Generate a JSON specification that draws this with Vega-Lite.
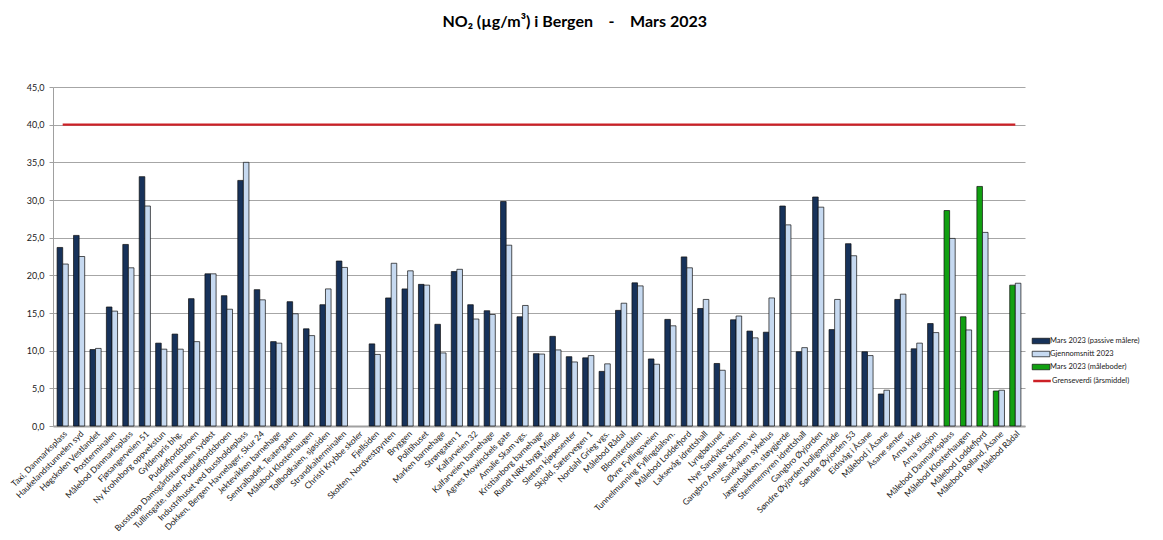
{
  "$schema": "https://vega.github.io/schema/vega-lite/v6.json",
  "width": 972,
  "height": 339,
  "padding": {"left": 9, "top": 14, "right": 2, "bottom": 2},
  "background": "white",
  "config": {"font": "Lato", "view": {"stroke": null}},
  "title": {"text": "NO₂ (µg/m³) i Bergen\u00a0\u00a0\u00a0 -\u00a0\u00a0\u00a0 Mars 2023", "fontSize": 16, "fontWeight": "bold", "color": "#000000", "anchor": "middle", "frame": "bounds", "offset": 53, "font": "Lato"},
  "data": {"values": [
    {"st": "Taxi, Danmarksplass", "periode": "Mars 2023", "serie": "Mars 2023 (passive målere)", "v": 23.7},
    {"st": "Taxi, Danmarksplass", "periode": "Gjennomsnitt 2023", "serie": "Gjennomsnitt 2023", "v": 21.5},
    {"st": "Haukelandstunnelen syd", "periode": "Mars 2023", "serie": "Mars 2023 (passive målere)", "v": 25.3},
    {"st": "Haukelandstunnelen syd", "periode": "Gjennomsnitt 2023", "serie": "Gjennomsnitt 2023", "v": 22.5},
    {"st": "Høgskolen Vestlandet", "periode": "Mars 2023", "serie": "Mars 2023 (passive målere)", "v": 10.15},
    {"st": "Høgskolen Vestlandet", "periode": "Gjennomsnitt 2023", "serie": "Gjennomsnitt 2023", "v": 10.3},
    {"st": "Postterminalen", "periode": "Mars 2023", "serie": "Mars 2023 (passive målere)", "v": 15.8},
    {"st": "Postterminalen", "periode": "Gjennomsnitt 2023", "serie": "Gjennomsnitt 2023", "v": 15.25},
    {"st": "Målebod Danmarksplass", "periode": "Mars 2023", "serie": "Mars 2023 (passive målere)", "v": 24.1},
    {"st": "Målebod Danmarksplass", "periode": "Gjennomsnitt 2023", "serie": "Gjennomsnitt 2023", "v": 21.0},
    {"st": "Fjøsangerveien 51", "periode": "Mars 2023", "serie": "Mars 2023 (passive målere)", "v": 33.1},
    {"st": "Fjøsangerveien 51", "periode": "Gjennomsnitt 2023", "serie": "Gjennomsnitt 2023", "v": 29.2},
    {"st": "Ny Krohnborg oppvekstun", "periode": "Mars 2023", "serie": "Mars 2023 (passive målere)", "v": 11.0},
    {"st": "Ny Krohnborg oppvekstun", "periode": "Gjennomsnitt 2023", "serie": "Gjennomsnitt 2023", "v": 10.2},
    {"st": "Gyldenpris bhg.", "periode": "Mars 2023", "serie": "Mars 2023 (passive målere)", "v": 12.2},
    {"st": "Gyldenpris bhg.", "periode": "Gjennomsnitt 2023", "serie": "Gjennomsnitt 2023", "v": 10.2},
    {"st": "Puddefjordsbroen", "periode": "Mars 2023", "serie": "Mars 2023 (passive målere)", "v": 16.9},
    {"st": "Puddefjordsbroen", "periode": "Gjennomsnitt 2023", "serie": "Gjennomsnitt 2023", "v": 11.2},
    {"st": "Busstopp Damsgårdstunnelen sydøst", "periode": "Mars 2023", "serie": "Mars 2023 (passive målere)", "v": 20.2},
    {"st": "Busstopp Damsgårdstunnelen sydøst", "periode": "Gjennomsnitt 2023", "serie": "Gjennomsnitt 2023", "v": 20.2},
    {"st": "Tullinsgate, under Puddefjordsbroen", "periode": "Mars 2023", "serie": "Mars 2023 (passive målere)", "v": 17.3},
    {"st": "Tullinsgate, under Puddefjordsbroen", "periode": "Gjennomsnitt 2023", "serie": "Gjennomsnitt 2023", "v": 15.5},
    {"st": "Industrihuset ved bussholdeplass", "periode": "Mars 2023", "serie": "Mars 2023 (passive målere)", "v": 32.6},
    {"st": "Industrihuset ved bussholdeplass", "periode": "Gjennomsnitt 2023", "serie": "Gjennomsnitt 2023", "v": 35.0},
    {"st": "Dokken, Bergen Havnelager, Skur 24", "periode": "Mars 2023", "serie": "Mars 2023 (passive målere)", "v": 18.1},
    {"st": "Dokken, Bergen Havnelager, Skur 24", "periode": "Gjennomsnitt 2023", "serie": "Gjennomsnitt 2023", "v": 16.75},
    {"st": "Jektevikken barnehage", "periode": "Mars 2023", "serie": "Mars 2023 (passive målere)", "v": 11.2},
    {"st": "Jektevikken barnehage", "periode": "Gjennomsnitt 2023", "serie": "Gjennomsnitt 2023", "v": 11.0},
    {"st": "Sentralbadet, Teatergaten", "periode": "Mars 2023", "serie": "Mars 2023 (passive målere)", "v": 16.5},
    {"st": "Sentralbadet, Teatergaten", "periode": "Gjennomsnitt 2023", "serie": "Gjennomsnitt 2023", "v": 14.9},
    {"st": "Målebod Klosterhaugen", "periode": "Mars 2023", "serie": "Mars 2023 (passive målere)", "v": 12.9},
    {"st": "Målebod Klosterhaugen", "periode": "Gjennomsnitt 2023", "serie": "Gjennomsnitt 2023", "v": 12.0},
    {"st": "Tollbodkaien, sjøsiden", "periode": "Mars 2023", "serie": "Mars 2023 (passive målere)", "v": 16.1},
    {"st": "Tollbodkaien, sjøsiden", "periode": "Gjennomsnitt 2023", "serie": "Gjennomsnitt 2023", "v": 18.2},
    {"st": "Strandkaiterminalen", "periode": "Mars 2023", "serie": "Mars 2023 (passive målere)", "v": 21.9},
    {"st": "Strandkaiterminalen", "periode": "Gjennomsnitt 2023", "serie": "Gjennomsnitt 2023", "v": 21.05},
    {"st": "Christi Krybbe skoler", "periode": "Mars 2023", "serie": "Mars 2023 (passive målere)", "v": null},
    {"st": "Christi Krybbe skoler", "periode": "Gjennomsnitt 2023", "serie": "Gjennomsnitt 2023", "v": null},
    {"st": "Fjellsiden", "periode": "Mars 2023", "serie": "Mars 2023 (passive målere)", "v": 10.9},
    {"st": "Fjellsiden", "periode": "Gjennomsnitt 2023", "serie": "Gjennomsnitt 2023", "v": 9.5},
    {"st": "Skolten, Nordvestpynten", "periode": "Mars 2023", "serie": "Mars 2023 (passive målere)", "v": 17.0},
    {"st": "Skolten, Nordvestpynten", "periode": "Gjennomsnitt 2023", "serie": "Gjennomsnitt 2023", "v": 21.6},
    {"st": "Bryggen", "periode": "Mars 2023", "serie": "Mars 2023 (passive målere)", "v": 18.2},
    {"st": "Bryggen", "periode": "Gjennomsnitt 2023", "serie": "Gjennomsnitt 2023", "v": 20.6},
    {"st": "Politihuset", "periode": "Mars 2023", "serie": "Mars 2023 (passive målere)", "v": 18.8},
    {"st": "Politihuset", "periode": "Gjennomsnitt 2023", "serie": "Gjennomsnitt 2023", "v": 18.7},
    {"st": "Marken barnehage", "periode": "Mars 2023", "serie": "Mars 2023 (passive målere)", "v": 13.5},
    {"st": "Marken barnehage", "periode": "Gjennomsnitt 2023", "serie": "Gjennomsnitt 2023", "v": 9.7},
    {"st": "Strøngaten 1", "periode": "Mars 2023", "serie": "Mars 2023 (passive målere)", "v": 20.5},
    {"st": "Strøngaten 1", "periode": "Gjennomsnitt 2023", "serie": "Gjennomsnitt 2023", "v": 20.8},
    {"st": "Kalfarveien 32", "periode": "Mars 2023", "serie": "Mars 2023 (passive målere)", "v": 16.1},
    {"st": "Kalfarveien 32", "periode": "Gjennomsnitt 2023", "serie": "Gjennomsnitt 2023", "v": 14.2},
    {"st": "Kalfarveien barnehage", "periode": "Mars 2023", "serie": "Mars 2023 (passive målere)", "v": 15.3},
    {"st": "Kalfarveien barnehage", "periode": "Gjennomsnitt 2023", "serie": "Gjennomsnitt 2023", "v": 14.8},
    {"st": "Agnes Mowinckels gate", "periode": "Mars 2023", "serie": "Mars 2023 (passive målere)", "v": 29.8},
    {"st": "Agnes Mowinckels gate", "periode": "Gjennomsnitt 2023", "serie": "Gjennomsnitt 2023", "v": 24.0},
    {"st": "Amalie Skam vgs.", "periode": "Mars 2023", "serie": "Mars 2023 (passive målere)", "v": 14.5},
    {"st": "Amalie Skam vgs.", "periode": "Gjennomsnitt 2023", "serie": "Gjennomsnitt 2023", "v": 16.0},
    {"st": "Kristianborg barnehage", "periode": "Mars 2023", "serie": "Mars 2023 (passive målere)", "v": 9.6},
    {"st": "Kristianborg barnehage", "periode": "Gjennomsnitt 2023", "serie": "Gjennomsnitt 2023", "v": 9.55},
    {"st": "Rundt NRK-bygg Minde", "periode": "Mars 2023", "serie": "Mars 2023 (passive målere)", "v": 11.9},
    {"st": "Rundt NRK-bygg Minde", "periode": "Gjennomsnitt 2023", "serie": "Gjennomsnitt 2023", "v": 10.1},
    {"st": "Sletten kjøpesenter", "periode": "Mars 2023", "serie": "Mars 2023 (passive målere)", "v": 9.2},
    {"st": "Sletten kjøpesenter", "periode": "Gjennomsnitt 2023", "serie": "Gjennomsnitt 2023", "v": 8.5},
    {"st": "Skjold, Sætervegen 1", "periode": "Mars 2023", "serie": "Mars 2023 (passive målere)", "v": 9.05},
    {"st": "Skjold, Sætervegen 1", "periode": "Gjennomsnitt 2023", "serie": "Gjennomsnitt 2023", "v": 9.35},
    {"st": "Nordahl Grieg vgs.", "periode": "Mars 2023", "serie": "Mars 2023 (passive målere)", "v": 7.25},
    {"st": "Nordahl Grieg vgs.", "periode": "Gjennomsnitt 2023", "serie": "Gjennomsnitt 2023", "v": 8.25},
    {"st": "Målebod Rådal", "periode": "Mars 2023", "serie": "Mars 2023 (passive målere)", "v": 15.35},
    {"st": "Målebod Rådal", "periode": "Gjennomsnitt 2023", "serie": "Gjennomsnitt 2023", "v": 16.3},
    {"st": "Blomsterdalen", "periode": "Mars 2023", "serie": "Mars 2023 (passive målere)", "v": 19.0},
    {"st": "Blomsterdalen", "periode": "Gjennomsnitt 2023", "serie": "Gjennomsnitt 2023", "v": 18.6},
    {"st": "Øvre Fyllingsveien", "periode": "Mars 2023", "serie": "Mars 2023 (passive målere)", "v": 8.9},
    {"st": "Øvre Fyllingsveien", "periode": "Gjennomsnitt 2023", "serie": "Gjennomsnitt 2023", "v": 8.2},
    {"st": "Tunnelmunning Fyllingdalsvn.", "periode": "Mars 2023", "serie": "Mars 2023 (passive målere)", "v": 14.15},
    {"st": "Tunnelmunning Fyllingdalsvn.", "periode": "Gjennomsnitt 2023", "serie": "Gjennomsnitt 2023", "v": 13.3},
    {"st": "Målebod Loddefjord", "periode": "Mars 2023", "serie": "Mars 2023 (passive målere)", "v": 22.45},
    {"st": "Målebod Loddefjord", "periode": "Gjennomsnitt 2023", "serie": "Gjennomsnitt 2023", "v": 21.0},
    {"st": "Laksevåg idrettshall", "periode": "Mars 2023", "serie": "Mars 2023 (passive målere)", "v": 15.6},
    {"st": "Laksevåg idrettshall", "periode": "Gjennomsnitt 2023", "serie": "Gjennomsnitt 2023", "v": 16.8},
    {"st": "Lyngbøtunet", "periode": "Mars 2023", "serie": "Mars 2023 (passive målere)", "v": 8.3},
    {"st": "Lyngbøtunet", "periode": "Gjennomsnitt 2023", "serie": "Gjennomsnitt 2023", "v": 7.4},
    {"st": "Nye Sandviksveien", "periode": "Mars 2023", "serie": "Mars 2023 (passive målere)", "v": 14.1},
    {"st": "Nye Sandviksveien", "periode": "Gjennomsnitt 2023", "serie": "Gjennomsnitt 2023", "v": 14.6},
    {"st": "Gangbro Amalie Skrams vei", "periode": "Mars 2023", "serie": "Mars 2023 (passive målere)", "v": 12.6},
    {"st": "Gangbro Amalie Skrams vei", "periode": "Gjennomsnitt 2023", "serie": "Gjennomsnitt 2023", "v": 11.7},
    {"st": "Sandviken sykehus", "periode": "Mars 2023", "serie": "Mars 2023 (passive målere)", "v": 12.45},
    {"st": "Sandviken sykehus", "periode": "Gjennomsnitt 2023", "serie": "Gjennomsnitt 2023", "v": 17.0},
    {"st": "Jægerbakken, støygjerde", "periode": "Mars 2023", "serie": "Mars 2023 (passive målere)", "v": 29.2},
    {"st": "Jægerbakken, støygjerde", "periode": "Gjennomsnitt 2023", "serie": "Gjennomsnitt 2023", "v": 26.7},
    {"st": "Stemmemyren idrettshall", "periode": "Mars 2023", "serie": "Mars 2023 (passive målere)", "v": 9.85},
    {"st": "Stemmemyren idrettshall", "periode": "Gjennomsnitt 2023", "serie": "Gjennomsnitt 2023", "v": 10.4},
    {"st": "Gangbro Øyjorden", "periode": "Mars 2023", "serie": "Mars 2023 (passive målere)", "v": 30.4},
    {"st": "Gangbro Øyjorden", "periode": "Gjennomsnitt 2023", "serie": "Gjennomsnitt 2023", "v": 29.05},
    {"st": "Søndre Øyjorden boligområde", "periode": "Mars 2023", "serie": "Mars 2023 (passive målere)", "v": 12.8},
    {"st": "Søndre Øyjorden boligområde", "periode": "Gjennomsnitt 2023", "serie": "Gjennomsnitt 2023", "v": 16.8},
    {"st": "Søndre  Øyjorden 53", "periode": "Mars 2023", "serie": "Mars 2023 (passive målere)", "v": 24.2},
    {"st": "Søndre  Øyjorden 53", "periode": "Gjennomsnitt 2023", "serie": "Gjennomsnitt 2023", "v": 22.6},
    {"st": "Eidsvåg i Åsane", "periode": "Mars 2023", "serie": "Mars 2023 (passive målere)", "v": 9.85},
    {"st": "Eidsvåg i Åsane", "periode": "Gjennomsnitt 2023", "serie": "Gjennomsnitt 2023", "v": 9.35},
    {"st": "Målebod i Åsane", "periode": "Mars 2023", "serie": "Mars 2023 (passive målere)", "v": 4.25},
    {"st": "Målebod i Åsane", "periode": "Gjennomsnitt 2023", "serie": "Gjennomsnitt 2023", "v": 4.75},
    {"st": "Åsane senter", "periode": "Mars 2023", "serie": "Mars 2023 (passive målere)", "v": 16.8},
    {"st": "Åsane senter", "periode": "Gjennomsnitt 2023", "serie": "Gjennomsnitt 2023", "v": 17.5},
    {"st": "Arna kirke", "periode": "Mars 2023", "serie": "Mars 2023 (passive målere)", "v": 10.25},
    {"st": "Arna kirke", "periode": "Gjennomsnitt 2023", "serie": "Gjennomsnitt 2023", "v": 11.0},
    {"st": "Arna stasjon", "periode": "Mars 2023", "serie": "Mars 2023 (passive målere)", "v": 13.6},
    {"st": "Arna stasjon", "periode": "Gjennomsnitt 2023", "serie": "Gjennomsnitt 2023", "v": 12.4},
    {"st": "Målebod Danmarksplass ", "periode": "Mars 2023", "serie": "Mars 2023 (måleboder)", "v": 28.6},
    {"st": "Målebod Danmarksplass ", "periode": "Gjennomsnitt 2023", "serie": "Gjennomsnitt 2023", "v": 24.9},
    {"st": "Målebod Klosterhaugen ", "periode": "Mars 2023", "serie": "Mars 2023 (måleboder)", "v": 14.5},
    {"st": "Målebod Klosterhaugen ", "periode": "Gjennomsnitt 2023", "serie": "Gjennomsnitt 2023", "v": 12.75},
    {"st": "Målebod Loddefjord ", "periode": "Mars 2023", "serie": "Mars 2023 (måleboder)", "v": 31.8},
    {"st": "Målebod Loddefjord ", "periode": "Gjennomsnitt 2023", "serie": "Gjennomsnitt 2023", "v": 25.7},
    {"st": "Målebod Rolland, Åsane", "periode": "Mars 2023", "serie": "Mars 2023 (måleboder)", "v": 4.65},
    {"st": "Målebod Rolland, Åsane", "periode": "Gjennomsnitt 2023", "serie": "Gjennomsnitt 2023", "v": 4.75},
    {"st": "Målebod Rådal ", "periode": "Mars 2023", "serie": "Mars 2023 (måleboder)", "v": 18.7},
    {"st": "Målebod Rådal ", "periode": "Gjennomsnitt 2023", "serie": "Gjennomsnitt 2023", "v": 18.95}
  ]},
  "encoding": {
    "x": {"field": "st", "type": "nominal", "title": null,
      "scale": {"paddingInner": 0.32, "paddingOuter": 0.25,
        "domain": ["Taxi, Danmarksplass", "Haukelandstunnelen syd", "Høgskolen Vestlandet", "Postterminalen", "Målebod Danmarksplass", "Fjøsangerveien 51", "Ny Krohnborg oppvekstun", "Gyldenpris bhg.", "Puddefjordsbroen", "Busstopp Damsgårdstunnelen sydøst", "Tullinsgate, under Puddefjordsbroen", "Industrihuset ved bussholdeplass", "Dokken, Bergen Havnelager, Skur 24", "Jektevikken barnehage", "Sentralbadet, Teatergaten", "Målebod Klosterhaugen", "Tollbodkaien, sjøsiden", "Strandkaiterminalen", "Christi Krybbe skoler", "Fjellsiden", "Skolten, Nordvestpynten", "Bryggen", "Politihuset", "Marken barnehage", "Strøngaten 1", "Kalfarveien 32", "Kalfarveien barnehage", "Agnes Mowinckels gate", "Amalie Skam vgs.", "Kristianborg barnehage", "Rundt NRK-bygg Minde", "Sletten kjøpesenter", "Skjold, Sætervegen 1", "Nordahl Grieg vgs.", "Målebod Rådal", "Blomsterdalen", "Øvre Fyllingsveien", "Tunnelmunning Fyllingdalsvn.", "Målebod Loddefjord", "Laksevåg idrettshall", "Lyngbøtunet", "Nye Sandviksveien", "Gangbro Amalie Skrams vei", "Sandviken sykehus", "Jægerbakken, støygjerde", "Stemmemyren idrettshall", "Gangbro Øyjorden", "Søndre Øyjorden boligområde", "Søndre  Øyjorden 53", "Eidsvåg i Åsane", "Målebod i Åsane", "Åsane senter", "Arna kirke", "Arna stasjon", "Målebod Danmarksplass ", "Målebod Klosterhaugen ", "Målebod Loddefjord ", "Målebod Rolland, Åsane", "Målebod Rådal "]},
      "axis": {"labelAngle": -45, "labelAlign": "right", "labelBaseline": "top", "labelFontSize": 8.5, "labelColor": "#1a1a1a", "labelExpr": "trim(datum.label)", "ticks": false, "labelPadding": 3, "domainColor": "#a0a0a0", "domainWidth": 2, "labelOverlap": false, "labelLimit": 300}}
  },
  "layer": [
    {
      "mark": {"type": "bar", "stroke": "#0d0d0d", "strokeWidth": 0.7},
      "encoding": {
        "xOffset": {"field": "periode", "type": "nominal", "sort": ["Mars 2023", "Gjennomsnitt 2023"], "scale": {"paddingInner": 0, "paddingOuter": 0}},
        "y": {"field": "v", "type": "quantitative", "title": null,
          "scale": {"domain": [0, 45], "nice": false},
          "axis": {"values": [0, 5, 10, 15, 20, 25, 30, 35, 40, 45], "labelOverlap": false, "labelExpr": "replace(format(datum.value, '.1f'), '.', ',')", "labelFontSize": 9, "labelColor": "#1a1a1a", "gridColor": "#a6a6a6", "gridWidth": 1.2, "domainColor": "#a0a0a0", "tickColor": "#a0a0a0", "tickSize": 4, "labelPadding": 5}},
        "color": {"field": "serie", "type": "nominal",
          "scale": {"domain": ["Mars 2023 (passive målere)", "Gjennomsnitt 2023", "Mars 2023 (måleboder)"], "range": ["#17325a", "#c6d9f0", "#11a011"]},
          "legend": {"title": null, "orient": "none", "legendX": 982, "legendY": 248, "labelFontSize": 7.5, "labelColor": "#1a1a1a", "symbolType": "M-1.6,-0.5H1.6V0.5H-1.6Z", "symbolSize": 121, "symbolStrokeColor": "#0d0d0d", "symbolStrokeWidth": 0.7, "symbolOpacity": 1, "rowPadding": 2, "labelOffset": 3}
        }
      }
    },
    {
      "mark": {"type": "line", "strokeWidth": 2.2},
      "encoding": {
        "y": {"datum": 40, "type": "quantitative", "title": null,
          "scale": {"domain": [0, 45], "nice": false},
          "axis": {"values": [0, 5, 10, 15, 20, 25, 30, 35, 40, 45], "labelOverlap": false, "labelExpr": "replace(format(datum.value, '.1f'), '.', ',')", "labelFontSize": 9, "labelColor": "#1a1a1a", "gridColor": "#a6a6a6", "gridWidth": 1.2, "domainColor": "#a0a0a0", "tickColor": "#a0a0a0", "tickSize": 4, "labelPadding": 5}},
        "stroke": {"datum": "Grenseverdi (årsmiddel)", "type": "nominal",
          "scale": {"domain": ["Grenseverdi (årsmiddel)"], "range": ["#cc2026"]},
          "legend": {"title": null, "orient": "none", "legendX": 982, "legendY": 287, "labelFontSize": 7.5, "labelColor": "#1a1a1a", "symbolType": "M-1.6,0H1.6", "symbolSize": 121, "symbolStrokeWidth": 2.5, "labelOffset": 3}
        }
      }
    }
  ]
}
